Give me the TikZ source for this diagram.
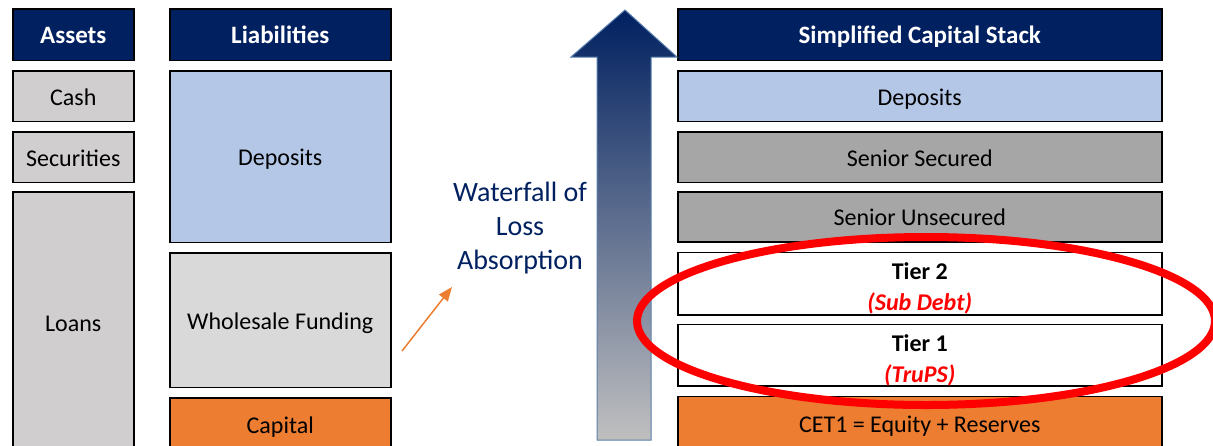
\documentclass[tikz,border=0pt]{standalone}
\usepackage{fontspec}
\setmainfont{Carlito}
\usepackage{xcolor}
\usetikzlibrary{shapes.geometric,arrows.meta,positioning}
\definecolor{navy}{HTML}{002060}
\definecolor{depblue}{HTML}{B4C7E7}
\definecolor{assetgray}{HTML}{D0CECE}
\definecolor{fundgray}{HTML}{D9D9D9}
\definecolor{seniorgray}{HTML}{A6A6A6}
\definecolor{caporange}{HTML}{ED7D31}
\definecolor{arrowedge}{HTML}{5A7FAD}
\tikzset{
  frame/.style={rectangle, draw, line width=1.5pt, inner sep=0pt, font=\fontsize{24}{28}\selectfont},
  box/.style={frame, text height=21pt, text depth=3pt},
  head/.style={box, fill=navy, text=white, font=\fontsize{25}{28}\selectfont\bfseries, minimum height=51.5pt},
  asset/.style={box, fill=assetgray, minimum width=121pt},
  liab/.style={box, minimum width=221pt},
  stack/.style={box, minimum width=484pt},
  tier/.style={frame, fill=white, minimum width=484pt, align=center},
}

\begin{document}
\begin{tikzpicture}[x=1pt, y=-1pt]
\useasboundingbox (0,0) rectangle (1213,445);
\clip (0,0) rectangle (1213,445);

% assets
\node [head, minimum width=121pt, anchor=north west] (assets) at (12,8) {Assets};
\node [asset, minimum height=50.5pt, below=9pt of assets] (cash) {Cash};
\node [asset, minimum height=50.5pt, below=9pt of cash] (securities) {Securities};
\node [asset, minimum height=262pt, below=8pt of securities] (loans) {Loans};

% liabilities
\node [head, minimum width=221pt, anchor=north west] (liabilities) at (169,8) {Liabilities};
\node [liab, fill=depblue, minimum height=171.5pt, below=9pt of liabilities] (deposits) {Deposits};
\node [liab, fill=fundgray, minimum height=134.5pt, below=9pt of deposits] (wholesale) {Wholesale Funding};
\node [liab, fill=caporange, minimum height=54pt, below=9pt of wholesale] (capital) {Capital};

% capital stack
\node [head, minimum width=484pt, anchor=north west] (stackhead) at (677,8) {Simplified Capital Stack};
\node [stack, fill=depblue, minimum height=50.5pt, below=9pt of stackhead] (sdeposits) {Deposits};
\node [stack, fill=seniorgray, minimum height=50.5pt, below=9pt of sdeposits] (secured) {Senior Secured};
\node [stack, fill=seniorgray, minimum height=50pt, below=8pt of secured] (unsecured) {Senior Unsecured};
\node [tier, minimum height=62.5pt, below=9pt of unsecured] (tiertwo) {\rule{0pt}{27pt}\textbf{Tier 2}\\[3pt]\textcolor{red}{\textbf{\textit{(Sub Debt)}}}};
\node [tier, minimum height=61.5pt, below=8pt of tiertwo] (tierone) {\rule{0pt}{27pt}\textbf{Tier 1}\\[3pt]\textcolor{red}{\textbf{\textit{(TruPS)}}}};
\node [stack, fill=caporange, minimum height=54pt, below=9pt of tierone] (cet) {CET1 = Equity + Reserves};

% waterfall arrow
\shade [top color=navy, bottom color=black!25, draw=arrowedge, line width=1pt]
  (597,440) -- (597,57) -- (571,57) -- (625,10) -- (677,57) -- (651,57) -- (651,440) -- cycle;
\node [text=navy, align=center, font=\fontsize{28}{34}\selectfont] (waterfall) at (520,228) {Waterfall of\\Loss\\Absorption};

\coordinate (pointfrom) at (402,351);
\coordinate (pointto) at (452,287);
\draw [caporange, line width=1.5pt, -{Triangle[length=14pt,width=11pt]}] (pointfrom) -- (pointto);

% highlight
\node [ellipse, draw=red, line width=8pt, minimum width=578pt, minimum height=168pt] (ring) at (926,321) {};
\end{tikzpicture}
\end{document}
